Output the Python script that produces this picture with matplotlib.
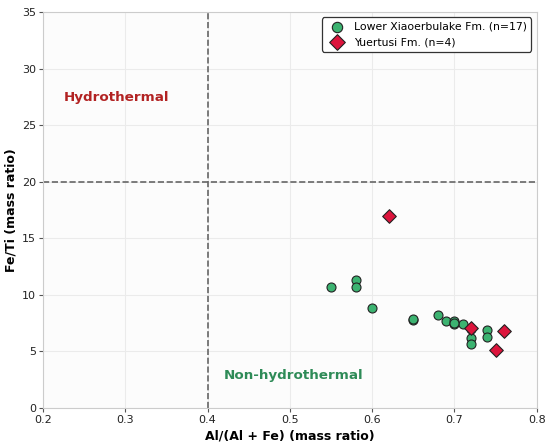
import matplotlib
matplotlib.use("Agg")
import matplotlib.pyplot as plt

# Lower Xiaoerbulake Fm.
lx_x = [0.55, 0.58, 0.58, 0.60, 0.65, 0.65, 0.68, 0.69, 0.70, 0.70, 0.71, 0.72, 0.72, 0.72, 0.74, 0.74, 0.70]
lx_y = [10.7, 11.3, 10.7, 8.85, 7.8, 7.9, 8.2, 7.65, 7.7, 7.4, 7.4, 7.0, 6.15, 5.7, 6.9, 6.3, 7.55]
# Yuertusi Fm.
yt_x = [0.62, 0.72, 0.76, 0.75]
yt_y = [17.0, 7.1, 6.85, 5.15]

fig = plt.figure(figsize=(5.5, 4.45), dpi=100)
ax = fig.add_axes([0.078, 0.083, 0.898, 0.890])
ax.set_facecolor("#fcfcfc")
ax.grid(True, color="#ebebeb", linewidth=0.8)
ax.set_axisbelow(True)
for s in ax.spines.values():
    s.set_color("#cccccc")
ax.tick_params(labelsize=8, length=3, color="#555555", labelcolor="#222222", pad=2)

ax.axvline(0.4, color="#666666", linestyle="--", linewidth=1.2, zorder=1)
ax.axhline(20, color="#666666", linestyle="--", linewidth=1.2, zorder=1)

ax.scatter(lx_x, lx_y, s=42, marker="o", color="#3cb371", edgecolor="#222222",
           linewidth=0.8, zorder=3, label="Lower Xiaoerbulake Fm. (n=17)")
ax.scatter(yt_x, yt_y, s=48, marker="D", color="#dc143c", edgecolor="#222222",
           linewidth=0.8, zorder=4, label="Yuertusi Fm. (n=4)")

ax.text(0.225, 27.45, "Hydrothermal", color="#b22222", fontsize=9.7,
        fontweight="bold", ha="left", va="center")
ax.text(0.42, 2.85, "Non-hydrothermal", color="#2e8b57", fontsize=9.7,
        fontweight="bold", ha="left", va="center")

ax.set_xlim(0.2, 0.8)
ax.set_ylim(0, 35)
ax.set_xticks([0.2, 0.3, 0.4, 0.5, 0.6, 0.7, 0.8])
ax.set_yticks([0, 5, 10, 15, 20, 25, 30, 35])
ax.set_xlabel("Al/(Al + Fe) (mass ratio)", fontsize=9, fontweight="bold", labelpad=3)
ax.set_ylabel("Fe/Ti (mass ratio)", fontsize=9, fontweight="bold", labelpad=3)

leg = ax.legend(loc="upper right", fontsize=7.8, frameon=True, fancybox=True,
                edgecolor="#333333", framealpha=1, borderpad=0.4, handletextpad=0.6,
                markerscale=1.15)
leg.get_frame().set_linewidth(0.9)

fig.savefig("out.png", dpi=100)
